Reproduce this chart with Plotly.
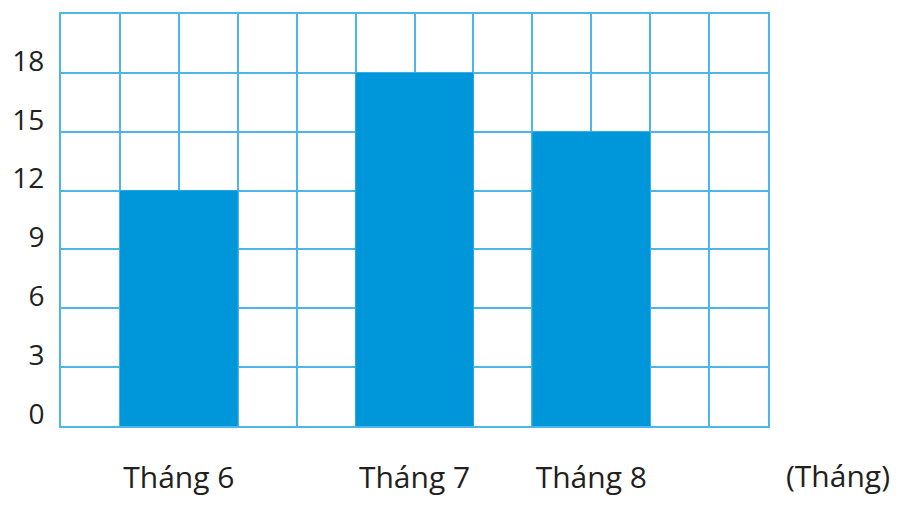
import plotly.graph_objects as go

# data
months = ["Tháng 6", "Tháng 7", "Tháng 8"]
values = [12, 18, 15]
grid_pos = [2, 6, 9]          # bar centres on the 12-column grid
y_ticks = [0, 3, 6, 9, 12, 15, 18]
unit_label = "(Tháng)"

grid_col = "#4DB6E8"
bar_col = "#0096DA"
txt_col = "#231F20"
font_name = "Open Sans"

fig = go.Figure()
fig.add_trace(go.Bar(x=grid_pos, y=values, width=2, marker=dict(color=bar_col, line=dict(width=0)),
                     hoverinfo="skip"))

# page body has an 8px margin, so the figure is 8px smaller than the window
fig.update_layout(
    width=897, height=501,
    margin=dict(l=53, r=137, t=6, b=83, autoexpand=False),
    plot_bgcolor="white", paper_bgcolor="white",
    showlegend=False,
    font=dict(family=font_name, size=28, color=txt_col),
)
fig.update_xaxes(
    range=[0, 12], automargin=False,
    tickmode="array", tickvals=grid_pos, ticktext=months,
    tickfont=dict(size=30),
    showgrid=False, zeroline=False, ticks="",
    ticklabelstandoff=24,
    minor=dict(dtick=1, tick0=0, showgrid=True, gridcolor=grid_col, gridwidth=2),
    showline=True, mirror=True, linecolor=grid_col, linewidth=2,
)
fig.update_yaxes(
    range=[0, 21], automargin=False,
    tickmode="array", tickvals=y_ticks,
    showgrid=True, gridcolor=grid_col, gridwidth=2, zeroline=False, ticks="",
    ticklabelstandoff=9, ticklabelshift=-12,
    showline=True, mirror=True, linecolor=grid_col, linewidth=2,
)
fig.add_annotation(text=unit_label, xref="paper", yref="paper", x=1.099, y=-0.12,
                   showarrow=False, xanchor="center", yanchor="middle",
                   font=dict(family=font_name, size=30, color=txt_col))

fig.write_html("out.html")
